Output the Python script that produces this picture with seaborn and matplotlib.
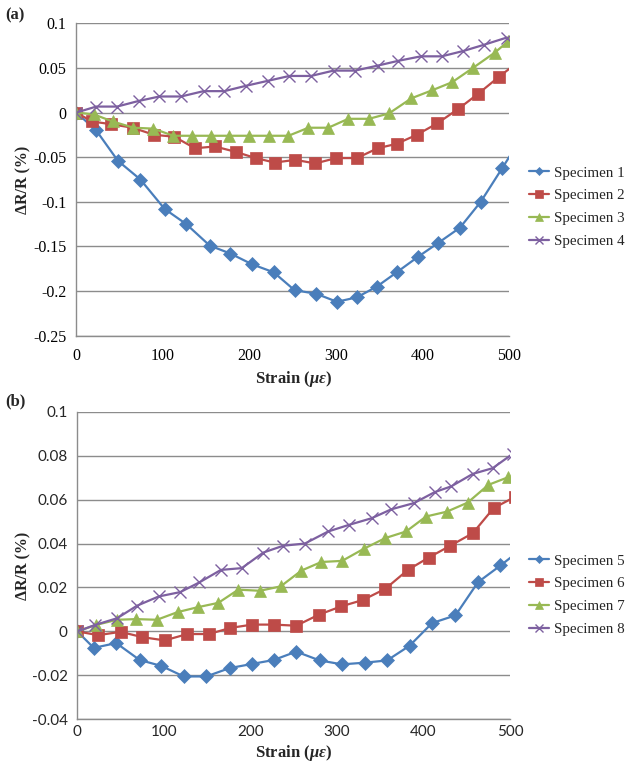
import matplotlib
matplotlib.use("Agg")
import matplotlib.pyplot as plt
import seaborn as sns
import numpy as np

# ---------------- data ----------------
x1 = [0, 23, 48, 74, 102, 127, 154, 178, 203, 228, 252, 277, 301, 324, 347, 370, 394, 418, 443, 467, 492, 516]
y1 = [0, -0.020, -0.054, -0.075, -0.108, -0.125, -0.149, -0.158, -0.170, -0.179, -0.199, -0.203, -0.212, -0.207,
      -0.195, -0.179, -0.162, -0.146, -0.129, -0.100, -0.062, -0.025]
x2 = [0, 18, 40, 65, 90, 113, 137, 160, 184, 207, 229, 253, 276, 300, 324, 348, 370, 393, 417, 441, 464, 488, 512]
y2 = [0, -0.010, -0.013, -0.017, -0.025, -0.027, -0.040, -0.038, -0.044, -0.051, -0.056, -0.053, -0.057, -0.051,
      -0.051, -0.040, -0.035, -0.025, -0.012, 0.004, 0.021, 0.040, 0.058]
x3 = [0, 20, 42, 66, 89, 112, 134, 155, 176, 199, 222, 245, 268, 291, 314, 338, 361, 387, 411, 434, 458, 483, 499]
y3 = [0, -0.002, -0.010, -0.017, -0.018, -0.026, -0.026, -0.026, -0.026, -0.026, -0.026, -0.026, -0.017, -0.017,
      -0.007, -0.007, -0.001, 0.016, 0.025, 0.034, 0.050, 0.067, 0.080]
x4 = [0, 23, 47, 72, 96, 121, 147, 171, 196, 221, 246, 271, 297, 322, 348, 372, 398, 422, 447, 471, 497]
y4 = [0, 0.0067, 0.0067, 0.013, 0.018, 0.018, 0.024, 0.024, 0.030, 0.0355, 0.041, 0.041, 0.047, 0.047, 0.0526,
      0.058, 0.063, 0.063, 0.069, 0.076, 0.084]

x5 = [0, 19, 45, 72, 97, 123, 149, 176, 202, 227, 253, 280, 306, 333, 358, 384, 410, 437, 463, 489, 515]
y5 = [0, -0.0075, -0.0053, -0.013, -0.0157, -0.0205, -0.0205, -0.0167, -0.0148, -0.013, -0.0092, -0.0132, -0.015,
      -0.0142, -0.0132, -0.0065, 0.0038, 0.0073, 0.0224, 0.030, 0.038]
x6 = [0, 24, 50, 75, 101, 127, 152, 177, 202, 227, 253, 279, 305, 330, 356, 382, 406, 431, 457, 481, 506]
y6 = [0, -0.0017, -0.0002, -0.0026, -0.0041, -0.0012, -0.0012, 0.0016, 0.0031, 0.0031, 0.0026, 0.0076, 0.0114,
      0.0143, 0.0194, 0.028, 0.0336, 0.039, 0.0447, 0.0561, 0.0613]
x7 = [0, 22, 46, 68, 92, 116, 139, 163, 186, 211, 235, 259, 282, 306, 331, 356, 380, 403, 427, 451, 475, 498]
y7 = [0, 0.003, 0.0053, 0.0056, 0.0053, 0.0088, 0.011, 0.013, 0.019, 0.0185, 0.0205, 0.0277, 0.0316, 0.0321,
      0.0376, 0.0425, 0.0455, 0.0523, 0.0545, 0.0586, 0.0667, 0.0702]
x8 = [0, 21, 46, 69, 94, 119, 141, 166, 190, 215, 238, 263, 290, 314, 340, 363, 389, 413, 432, 457, 480, 503]
y8 = [0, 0.003, 0.006, 0.0117, 0.0159, 0.0179, 0.0223, 0.028, 0.0288, 0.0359, 0.039, 0.040, 0.0455, 0.0485,
      0.0515, 0.0556, 0.0584, 0.0634, 0.066, 0.0717, 0.0743, 0.0808]

labels_a = ["Specimen 1", "Specimen 2", "Specimen 3", "Specimen 4"]
labels_b = ["Specimen 5", "Specimen 6", "Specimen 7", "Specimen 8"]
yticks_a = [0.1, 0.05, 0, -0.05, -0.1, -0.15, -0.2, -0.25]
ytick_labels_a = ["0.1", "0.05", "0", "-0.05", "-0.1", "-0.15", "-0.2", "-0.25"]
yticks_b = [0.1, 0.08, 0.06, 0.04, 0.02, 0, -0.02, -0.04]
ytick_labels_b = ["0.1", "0.08", "0.06", "0.04", "0.02", "0", "-0.02", "-0.04"]
xticks = [0, 100, 200, 300, 400, 500]

# ---------------- style ----------------
sns.set_style("white")
plt.rcParams['font.family'] = ['Liberation Serif', 'DejaVu Serif']
plt.rcParams['mathtext.fontset'] = 'custom'
plt.rcParams['mathtext.bf'] = 'Liberation Serif:bold:italic'
plt.rcParams['mathtext.rm'] = 'Liberation Serif:bold'

colors = ["#4A7EBB", "#BE4B48", "#98B954", "#7D60A0"]
markers = ["D", "s", "^", "x"]
msizes = [7.5, 8.5, 9, 9]

W, H = 629, 764
fig = plt.figure(figsize=(W / 100, H / 100), dpi=100)


def rect(l, r, t, b):
    return [l / W, 1 - b / H, (r - l) / W, (b - t) / H]


ax_a = fig.add_axes(rect(76.3, 509.3, 23.3, 335.7))
ax_b = fig.add_axes(rect(77.3, 510.0, 411.7, 719.3))

grid_col = "#8C8C8C"


def draw(ax, xs, ys, labels):
    for i, (xx, yy, lab) in enumerate(zip(xs, ys, labels)):
        kw = dict(color=colors[i], marker=markers[i], markersize=msizes[i], linewidth=1.6,
                  markeredgecolor=colors[i], markeredgewidth=1.0 if markers[i] == "x" else 0.5)
        if markers[i] == "x":
            kw["markerfacecolor"] = "none"
        sns.lineplot(x=xx, y=yy, ax=ax, label=lab, sort=False, estimator=None, **kw)
    h, l = ax.get_legend_handles_labels()
    if ax.get_legend() is not None:
        ax.get_legend().remove()
    return h, l


ha, la = draw(ax_a, [x1, x2, x3, x4], [y1, y2, y3, y4], labels_a)
hb, lb = draw(ax_b, [x5, x6, x7, x8], [y5, y6, y7, y8], labels_b)

for ax, yt, ytl, lo, hi in [(ax_a, yticks_a, ytick_labels_a, -0.25, 0.1),
                             (ax_b, yticks_b, ytick_labels_b, -0.04, 0.1)]:
    ax.set_xlim(0, 500)
    ax.set_ylim(lo, hi)
    ax.set_xticks(xticks)
    ax.set_yticks(yt)
    ax.set_yticklabels(ytl)
    ax.set_axisbelow(True)
    ax.yaxis.grid(True, color=grid_col, linewidth=1.0)
    ax.xaxis.grid(False)
    for s in ["top", "right"]:
        ax.spines[s].set_visible(False)
    for s in ["left", "bottom"]:
        ax.spines[s].set_color(grid_col)
        ax.spines[s].set_linewidth(1.0)
    ax.tick_params(length=0)
    ax.set_xlabel("")
    ax.set_ylabel("")

# tick fonts: (a) serif, (b) sans
ax_a.tick_params(axis='both', labelsize=11.5, colors="black")
ax_a.tick_params(axis='y', pad=7)
ax_a.tick_params(axis='x', pad=9)
for t in ax_b.get_xticklabels() + ax_b.get_yticklabels():
    t.set_fontfamily(['Lato', 'DejaVu Sans'])
    t.set_fontsize(11)
ax_b.tick_params(axis='y', pad=7)
ax_b.tick_params(axis='x', pad=4)

# axis labels
for yc, xlab_y in [(179.5, 379), (565.5, 753)]:
    fig.text(23 / W, 1 - yc / H, "ΔR/R (%)", rotation=90, ha="center", va="center",
             fontsize=11.5, fontweight="bold")
    fig.text(293 / W, 1 - xlab_y / H, r"Strain ($\mathbf{\mu\varepsilon}$)", ha="center", va="center",
             fontsize=12, fontweight="bold")

fig.text(15 / W, 1 - 15 / H, "(a)", ha="center", va="center", fontsize=12, fontweight="bold")
fig.text(15 / W, 1 - 401 / H, "(b)", ha="center", va="center", fontsize=12, fontweight="bold")

# legends
for h, l, ytop in [(ha, la, 166), (hb, lb, 554)]:
    fig.legend(h, l, loc="upper left", bbox_to_anchor=(529 / W, 1 - ytop / H), frameon=False,
               fontsize=10.8, borderpad=0, borderaxespad=0, handlelength=1.3, handletextpad=0.35,
               labelspacing=0.62, markerscale=0.6)

fig.savefig("out.png", dpi=100)
